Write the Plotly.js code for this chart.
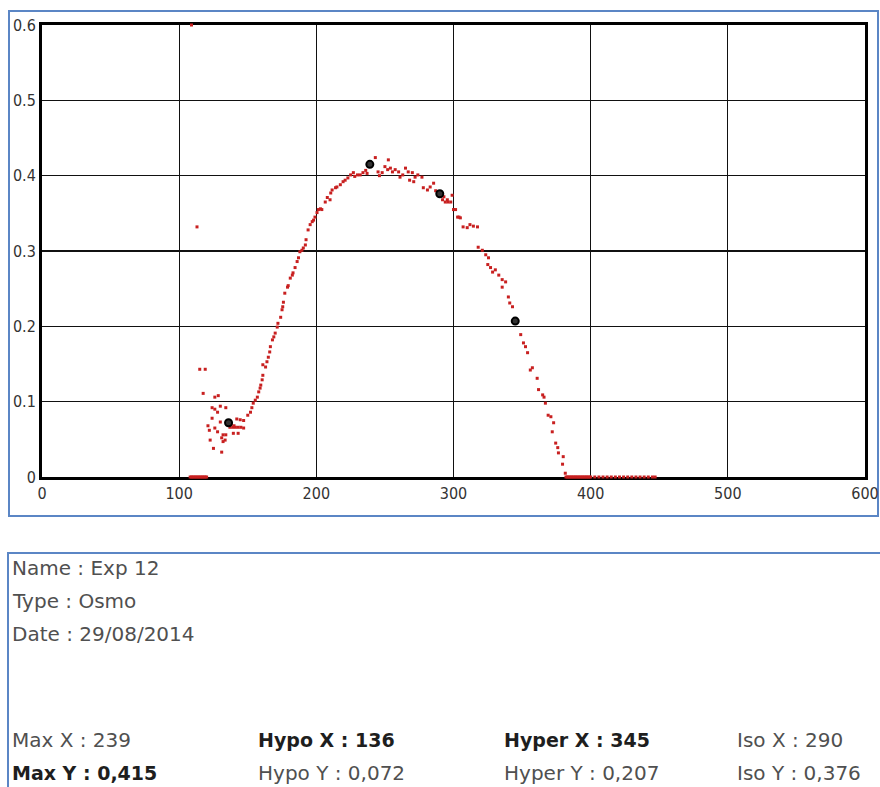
<!DOCTYPE html>
<html>
<head>
<meta charset="utf-8">
<script src="https://cdn.plot.ly/plotly-3.0.1.min.js"></script>
<style>
html,body{margin:0;padding:0;background:#fff;}
#chart{width:880px;height:787px;}
</style>
</head>
<body>
<div id="chart"></div>
<script>
// ---- data ----
const baseLeftX = [108,109,110,111,112,113,114,115,116,117,118,119,120];
const baseLeftY = [0,0,0,0,0,0,0,0,0,0,0,0,0];

const curveX = [109,113,115,119,117.5,
  126,128.5,124,126,128,130,134,124,121,122,126,128,122.6,125,131,132,133.5,131,132,134,130,
  137,139,141,143,145,142,144.5,147,139.5,143,147,138,140,
  150,152,153,154,155.5,157,158,159,159.5,160.5,161,163,164,161,165,166,166.5,168,169,170,
  171.5,172,174,175,175.5,176,177,179,179.5,181,182.5,183,184.5,186,187,188,189.5,190.5,192,
  192.5,194,195.5,197,198,199,200.5,201.5,203,204,206.5,208,210,210.5,211.5,214,215,217.5,
  219.5,221,223,225,227,228,230,232,234,236,237,
  243,245,246,248,250,252,252.5,254,255.5,257.5,260,261,263,265,267,268,270,271,272,274,277,
  278,281,283,285.5,287,
  292,293,294,295.5,296,298,299,300,301.5,303,304,305,307,310,312,314.5,317.5,318,321,323.5,
  325,325.5,327,328.5,330.5,333,335.5,338,335.5,340,341,343,349,351,352.5,354,356,357.5,361,
  362,365,366,367,369,371,373,372,374.5,376,376.5,380,379.5,381.5];
const curveY = [0.600,0.332,0.143,0.143,0.111,
  0.106,0.108,0.092,0.090,0.086,0.094,0.092,0.078,0.068,0.062,0.065,0.060,0.049,0.038,0.052,0.047,0.049,0.033,0.056,0.056,0.073,
  0.066,0.066,0.066,0.066,0.066,0.077,0.076,0.075,0.058,0.058,0.065,0.070,0.068,
  0.082,0.086,0.092,0.098,0.102,0.106,0.113,0.118,0.122,0.129,0.135,0.146,0.153,0.149,0.159,0.166,0.173,0.182,0.186,0.191,
  0.199,0.204,0.212,0.222,0.226,0.232,0.244,0.252,0.254,0.264,0.268,0.271,0.278,0.286,0.291,0.299,0.301,0.304,0.308,
  0.315,0.328,0.335,0.339,0.341,0.345,0.351,0.355,0.356,0.355,0.365,0.371,0.368,0.377,0.381,0.384,0.385,0.388,
  0.392,0.394,0.397,0.401,0.404,0.399,0.401,0.401,0.404,0.407,0.403,
  0.424,0.405,0.400,0.404,0.412,0.408,0.421,0.410,0.405,0.408,0.405,0.398,0.401,0.410,0.405,0.394,0.404,0.392,0.398,0.401,0.398,
  0.384,0.381,0.385,0.390,0.380,
  0.368,0.372,0.365,0.368,0.365,0.365,0.374,0.355,0.355,0.345,0.345,0.344,0.332,0.331,0.335,0.333,0.332,0.305,0.301,0.295,
  0.282,0.291,0.278,0.272,0.275,0.268,0.262,0.259,0.252,0.239,0.231,0.226,0.189,0.178,0.173,0.165,0.142,0.145,0.131,
  0.116,0.109,0.106,0.098,0.082,0.080,0.072,0.060,0.045,0.039,0.032,0.027,0.017,0.005];

const baseRightX = [382,383,384,385,386,387,388,389,390,391,392,393,394,395,396,397,398,399,400,
  403,406,409,412,415,418,421,424,427,430,433,436,439,442,445,447];
const baseRightY = [0,0,0,0,0,0,0,0,0,0,0,0,0,0,0,0,0,0,0,
  0,0,0,0,0,0,0,0,0,0,0,0,0,0,0,0];

const keyNames = ['Max','Hypo','Hyper','Iso'];
const keyX = [239,136,345,290];
const keyY = [0.415,0.072,0.207,0.376];
const keyBoldX = [false,true,true,false];
const keyBoldY = [true,false,false,false];

const infoName = 'Exp 12';
const infoType = 'Osmo';
const infoDate = '29/08/2014';

const xTickVals = [0,100,200,300,400,500,600];
const xTickText = ['0','100','200','300','400','500','600'];
const yTickVals = [0,0.1,0.2,0.3,0.4,0.5,0.6];
const yTickText = ['0','0.1','0.2','0.3','0.4','0.5','0.6'];

// ---- layout helpers (pixel -> paper) ----
const L = 42, R = 865, T = 25, B = 477;
const W = 880, H = 787;
const px = v => (v - L) / (R - L);
const py = v => (B - v) / (B - T);

const red = '#c82020';
const traces = [
  {x: baseLeftX.concat(curveX, baseRightX), y: baseLeftY.concat(curveY, baseRightY),
   type: 'scatter', mode: 'markers', cliponaxis: false, hoverinfo: 'x+y',
   marker: {symbol: 'square', size: 3, color: red}},
  {x: keyX, y: keyY, type: 'scatter', mode: 'markers', cliponaxis: false, text: keyNames,
   marker: {symbol: 'circle', size: 7, color: '#333', line: {width: 2, color: '#000'}}}
];

const fmt = v => String(v).replace('.', ',');
const normalColor = '#505050', boldColor = '#1e1e1e';
const txtFont = 'DejaVu Sans, Verdana, sans-serif';
function ann(text, x, y, bold) {
  return {text: bold ? '<b>' + text + '</b>' : text, xref: 'paper', yref: 'paper',
    x: px(x - 2), y: py(y), xanchor: 'left', yanchor: 'middle', showarrow: false,
    font: {family: txtFont, size: bold ? 19 : 20, color: bold ? boldColor : normalColor}};
}
const annotations = [
  ann('Name : ' + infoName, 12, 568, false),
  ann('Type : ' + infoType, 12, 601, false),
  ann('Date : ' + infoDate, 12, 634, false)
];
const colX = [12, 258, 504, 737];
keyNames.forEach((n, i) => {
  annotations.push(ann(n + ' X : ' + keyX[i], colX[i], 740, keyBoldX[i]));
  annotations.push(ann(n + ' Y : ' + fmt(keyY[i]), colX[i], 773, keyBoldY[i]));
});

const frameColor = '#5b86c5';
const shapes = [
  {type: 'rect', xref: 'paper', yref: 'paper', x0: px(9), x1: px(878), y0: py(516), y1: py(11),
   line: {color: frameColor, width: 2}, layer: 'below'},
  {type: 'rect', xref: 'paper', yref: 'paper', x0: px(8), x1: px(884), y0: py(800), y1: py(553),
   line: {color: frameColor, width: 2}, layer: 'below'}
];

const tickFont = {family: 'Liberation Sans Narrow, DejaVu Sans Condensed, Arial Narrow, sans-serif', size: 16, color: '#333'};
const layout = {
  width: W, height: H,
  margin: {l: L, r: W - R, t: T, b: H - B, pad: 0},
  paper_bgcolor: '#fff', plot_bgcolor: '#fff',
  showlegend: false,
  xaxis: {range: [0, 600], tickvals: xTickVals, ticktext: xTickText, showgrid: true,
    gridcolor: '#111', gridwidth: 1.3, zeroline: false, showline: true, mirror: true,
    linecolor: '#000', linewidth: 3, ticks: '', tickfont: tickFont, layer: 'below traces',
    fixedrange: true},
  yaxis: {range: [0, 0.6], tickvals: yTickVals, ticktext: yTickText, showgrid: true,
    gridcolor: '#111', gridwidth: 1.3, zeroline: false, showline: true, mirror: true,
    linecolor: '#000', linewidth: 3, ticks: '', tickfont: tickFont, layer: 'below traces',
    fixedrange: true},
  shapes: shapes,
  annotations: annotations
};
Plotly.newPlot('chart', traces, layout, {displayModeBar: false, staticPlot: true});
</script>
</body>
</html>
